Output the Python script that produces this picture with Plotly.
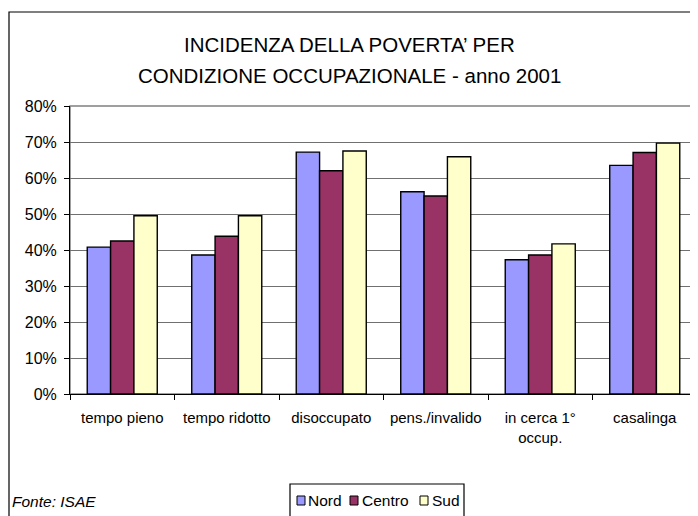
import plotly.graph_objects as go

categorie = ["tempo pieno", "tempo ridotto", "disoccupato", "pens./invalido",
             "in cerca 1°<br>occup.", "casalinga"]
nord = [40.8, 38.6, 67.2, 56.2, 37.3, 63.5]
centro = [42.5, 43.8, 62.0, 55.0, 38.6, 67.1]
sud = [49.5, 49.5, 67.5, 65.9, 41.7, 69.7]

serie = [("Nord", nord, "#9999FF"), ("Centro", centro, "#993366"), ("Sud", sud, "#FFFFCC")]

font = "Liberation Sans, Arial, sans-serif"

# the page has an 8px body margin, so screen pixel = figure pixel + 8
OFF = 8
# plot area on screen: x 70..697, y 106..394
L, R, T, B = 70, 697, 106, 394
def px(x):
    return (x - L) / (R - L)
def py(y):
    return (B - y) / (B - T)

fig = go.Figure()
for nome, valori, colore in serie:
    fig.add_trace(go.Bar(x=categorie, y=valori, name=nome, showlegend=False,
                         marker=dict(color=colore, line=dict(color="black", width=1.4))))

shapes = [
    dict(type="rect", xref="paper", yref="paper", x0=0, x1=1, y0=0, y1=1,
         line=dict(color="#808080", width=1.5), layer="below"),
    dict(type="rect", xref="paper", yref="paper",
         x0=px(9), x1=px(720), y0=py(540), y1=py(12),
         line=dict(color="black", width=1.2)),
    # legend box
    dict(type="rect", xref="paper", yref="paper",
         x0=px(290), x1=px(464), y0=py(540), y1=py(484),
         line=dict(color="black", width=1.2), fillcolor="white"),
]
annotations = [
    dict(text="INCIDENZA DELLA POVERTA’ PER", xref="paper", yref="paper",
         x=px(349), y=py(44), xanchor="center", yanchor="middle", showarrow=False,
         font=dict(size=20.5)),
    dict(text="CONDIZIONE OCCUPAZIONALE - anno 2001", xref="paper", yref="paper",
         x=px(349), y=py(75), xanchor="center", yanchor="middle", showarrow=False,
         font=dict(size=20.5)),
    dict(text="<i>Fonte: ISAE</i>", xref="paper", yref="paper",
         x=px(10), y=py(501), xanchor="left", yanchor="middle",
         showarrow=False, font=dict(size=15.5)),
]

# legend entries
leg_sq = [297, 350, 420]
leg_tx = [306, 360, 430]
for (nome, valori, colore), xs, xt in zip(serie, leg_sq, leg_tx):
    shapes.append(dict(type="rect", xref="paper", yref="paper",
                       x0=px(xs), x1=px(xs + 8), y0=py(505), y1=py(496),
                       line=dict(color="black", width=1), fillcolor=colore))
    annotations.append(dict(text=nome, xref="paper", yref="paper",
                            x=px(xt), y=py(500.5), xanchor="left", yanchor="middle",
                            showarrow=False, font=dict(size=15.5)))

fig.update_layout(
    width=698, height=516,
    margin=dict(l=L - OFF, r=698 - (R - OFF), t=T - OFF, b=516 - (B - OFF)),
    paper_bgcolor="white", plot_bgcolor="white",
    font=dict(family=font, size=13, color="black"),
    barmode="group", bargap=0.33, bargroupgap=0,
    xaxis=dict(tickson="boundaries", ticks="outside", ticklen=5, tickcolor="black",
               showline=True, linecolor="black", linewidth=1, showgrid=False,
               tickfont=dict(size=15), automargin=False, ticklabelstandoff=10),
    yaxis=dict(range=[0, 80], dtick=10, ticksuffix="%", ticks="outside", ticklen=5,
               tickcolor="black", showline=True, linecolor="black", linewidth=1,
               showgrid=True, gridcolor="#707070", gridwidth=1, zeroline=False,
               tickfont=dict(size=16), automargin=False, ticklabelstandoff=4),
    shapes=shapes,
    annotations=annotations,
)

fig.write_html("out.html")
